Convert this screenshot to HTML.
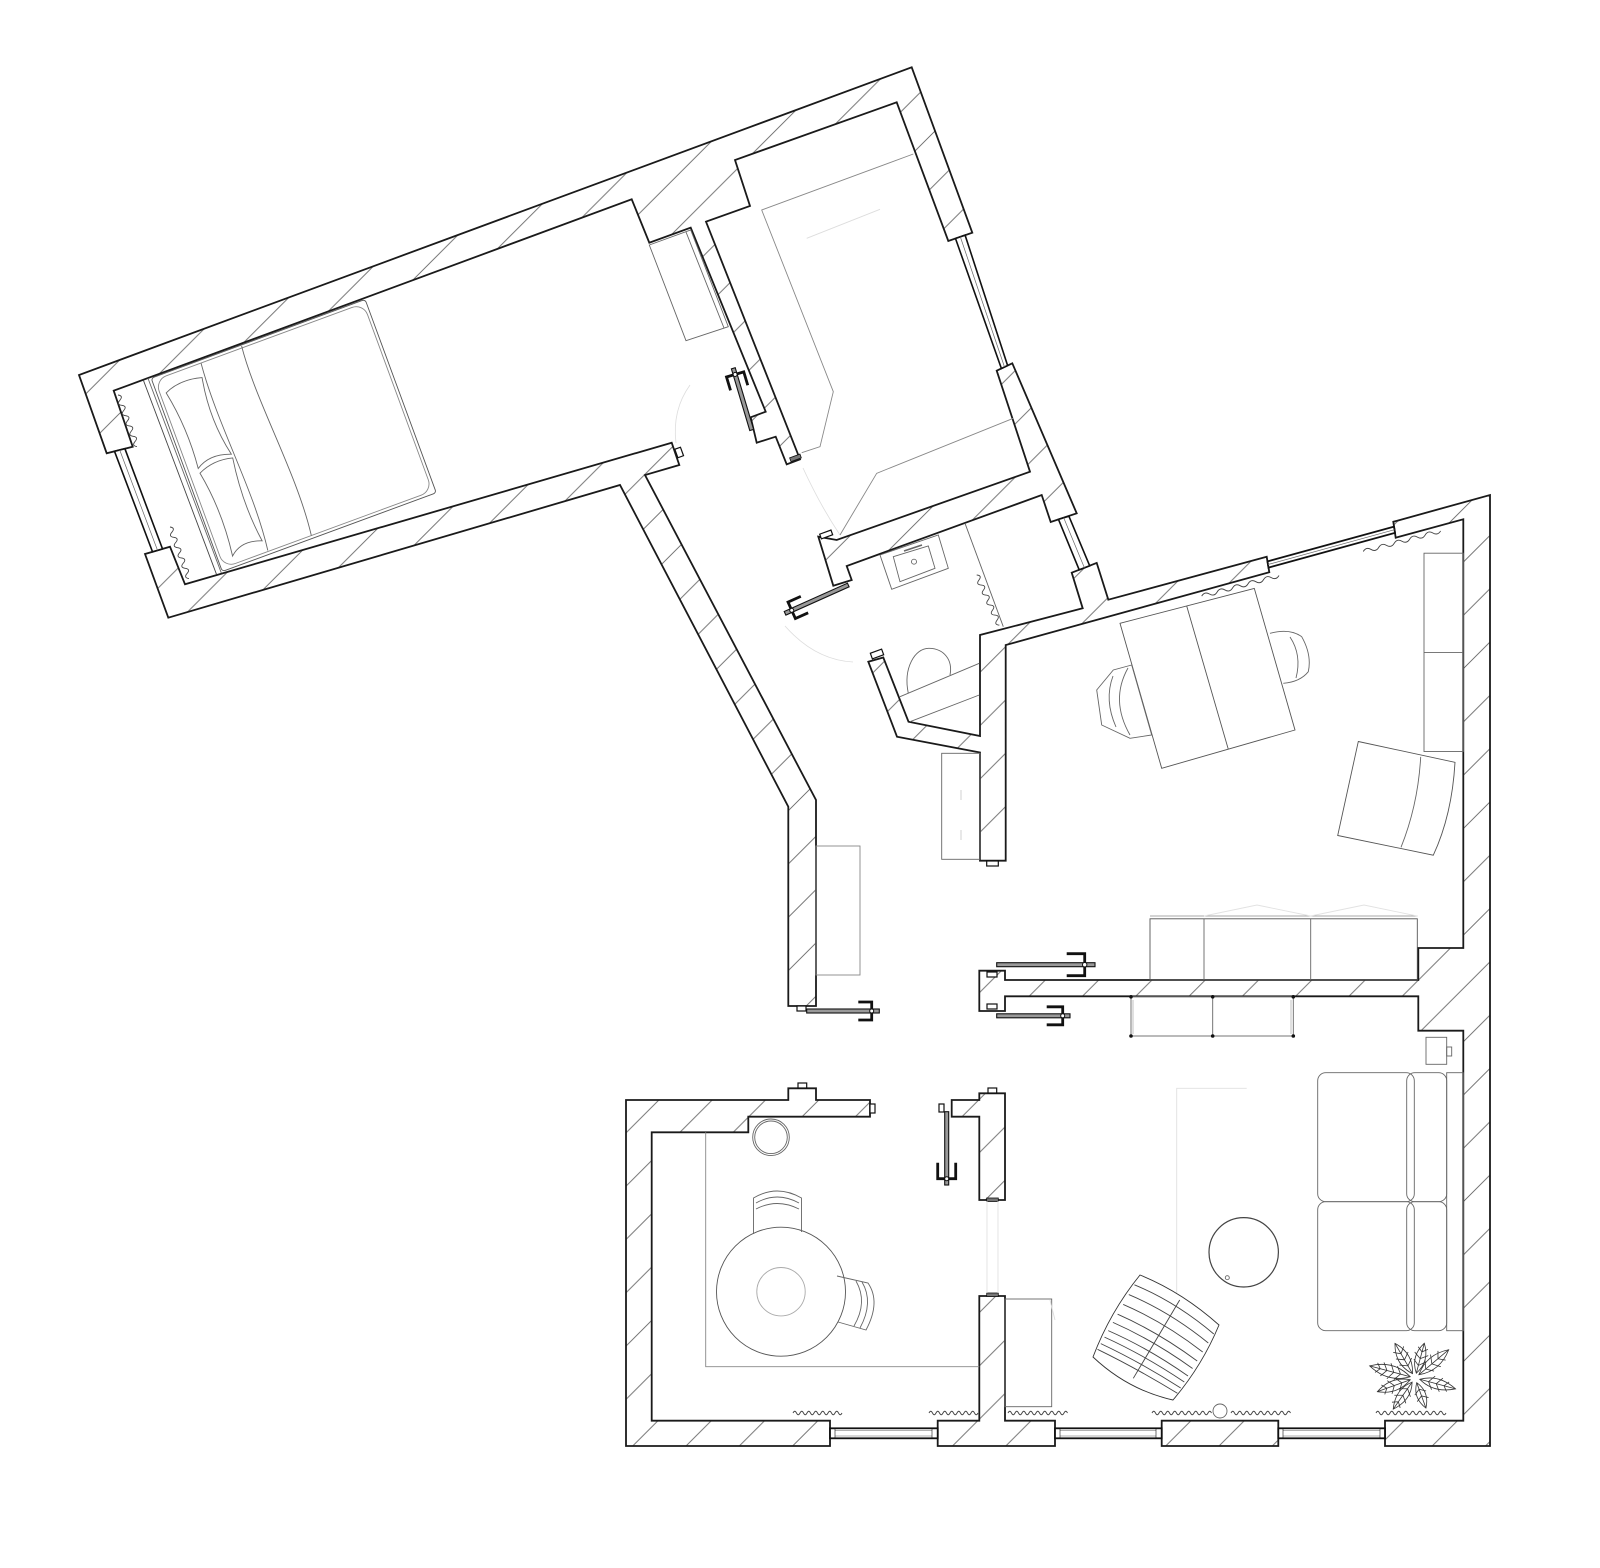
<!DOCTYPE html>
<html><head><meta charset="utf-8"><title>Floor plan</title>
<style>html,body{margin:0;padding:0;background:#fff}svg{display:block}</style></head>
<body>
<svg width="1600" height="1568" viewBox="0 0 1600 1568" xmlns="http://www.w3.org/2000/svg">
<defs>
<pattern id="h" patternUnits="userSpaceOnUse" width="53.3" height="53.3">
<path d="M0 53.3 L53.3 0 M-5 5 L5 -5 M48.3 58.3 L58.3 48.3" stroke="#666" stroke-width="0.9" fill="none"/>
</pattern>
<path id="w49" d="M0,0 q1.75,-3.5 3.5,0 t3.5,0 t3.5,0 t3.5,0 t3.5,0 t3.5,0 t3.5,0 t3.5,0 t3.5,0 t3.5,0 t3.5,0 t3.5,0 t3.5,0 t3.5,0" fill="none" stroke="#444" stroke-width="0.9"/>
<path id="w60" d="M0,0 q1.75,-3.5 3.5,0 t3.5,0 t3.5,0 t3.5,0 t3.5,0 t3.5,0 t3.5,0 t3.5,0 t3.5,0 t3.5,0 t3.5,0 t3.5,0 t3.5,0 t3.5,0 t3.5,0 t3.5,0 t3.5,0" fill="none" stroke="#444" stroke-width="0.9"/>
<path id="w70" d="M0,0 q1.75,-3.5 3.5,0 t3.5,0 t3.5,0 t3.5,0 t3.5,0 t3.5,0 t3.5,0 t3.5,0 t3.5,0 t3.5,0 t3.5,0 t3.5,0 t3.5,0 t3.5,0 t3.5,0 t3.5,0 t3.5,0 t3.5,0 t3.5,0 t3.5,0" fill="none" stroke="#444" stroke-width="0.9"/>
<path id="wO" d="M0,0 q4,-4 8,0 t8,0 t8,0 t8,0 t8,0 t8,0 t8,0 t8,0 t8,0 t8,0" fill="none" stroke="#444" stroke-width="0.9"/>
<path id="wB" d="M0,0 q2.75,-5 5.5,0 t5.5,0 t5.5,0 t5.5,0 t5.5,0 t5.5,0 t5.5,0 t5.5,0 t5.5,0 t5.5,0" fill="none" stroke="#444" stroke-width="0.9"/>
</defs>

<!-- ============ WALLS ============ -->
<g fill="url(#h)" stroke="#1a1a1a" stroke-width="1.8" stroke-linejoin="miter">
<polygon points="106.7,453.3 79,375 911.7,67.3 972.3,232.7 948.3,241 896.7,102.3 735,160 750,206 706,221.7 800,459.3 786.7,464.3 775.7,436.7 756.7,442.7 750.7,417.3 765.7,411.7 690.7,227.7 649.3,242.7 631.7,199.3 113.7,390.7 132.7,446.7"/>
<polygon points="996.7,370.7 1012.3,363.3 1076.7,513.3 1050.7,522 1041.7,495 846.7,566 851.7,580 833.3,585.7 818.3,536.7 836.7,540 1030,471.7"/>
<polygon points="1071.7,572.7 1096.7,562.9 1108.3,599.7 1266.7,556.8 1269.3,572.2 1005.7,645 1005.7,860.7 980,860.7 980,752.5 897,736.7 868.3,661.7 883.3,657.5 908.5,721.7 980,736 980,635 1082.7,608.3"/>
<polygon points="1393.3,521.8 1490,495 1490,1446 1385,1446 1385,1420.7 1463.3,1420.7 1463.3,1030.7 1418.3,1030.7 1418.3,996.3 1005,996.3 1005,1011 979.3,1011 979.3,970.7 1005,970.7 1005,980 1418.3,980 1418.3,948 1463.3,948 1463.3,519.3 1395.7,537.7"/>
<polygon points="1161.7,1420.7 1278.3,1420.7 1278.3,1446 1161.7,1446"/>
<polygon points="937.7,1420.7 979.3,1420.7 979.3,1296 1005,1296 1005,1420.7 1055,1420.7 1055,1446 937.7,1446"/>
<polygon points="830,1420.7 651.7,1420.7 651.7,1132.3 748.3,1132.3 748.3,1116.7 870,1116.7 870,1100 816,1100 816,1088.3 788.3,1088.3 788.3,1100 626,1100 626,1446 830,1446"/>
<polygon points="951.7,1100 979.3,1100 979.3,1093.3 1005,1093.3 1005,1200 979.3,1200 979.3,1116.7 951.7,1116.7"/>
<polygon points="145,554 168.3,617.7 620,485 788.3,806.7 788.3,1006 816,1006 816,800 645,475 679.3,465 671.7,442.7 185,584.3 170,546.7"/>
</g>

<!-- ============ WINDOWS ============ -->
<g stroke="#111" fill="#fff">
<polygon points="124.9,448.7 162.5,548.9 152.5,551.8 114.5,451.3" stroke-width="1.6"/>
<line x1="119.7" y1="450" x2="157.5" y2="550.3" stroke-width="0.7" stroke="#666"/>
<polygon points="955.5,238.5 1001.4,368.5 1007.6,365.5 965.1,235.2" stroke-width="1.6"/>
<line x1="960.3" y1="236.8" x2="1004.5" y2="367" stroke-width="0.7" stroke="#666"/>
<polygon points="1058.5,519.4 1079.2,569.8 1089.7,565.8 1068.9,516.2" stroke-width="1.6"/>
<line x1="1063.7" y1="517.8" x2="1084.4" y2="567.8" stroke-width="0.7" stroke="#666"/>
<polygon points="1268.5,567.6 1395,532.9 1394,526.6 1267.5,561.4" stroke-width="1.8"/>
<line x1="1268" y1="564.5" x2="1394.5" y2="529.7" stroke-width="0.7" stroke="#666"/>
<rect x="830" y="1428.3" width="107.7" height="10" stroke-width="1.8"/>
<line x1="835" y1="1430.5" x2="932" y2="1430.5" stroke-width="0.6" stroke="#666"/>
<line x1="835" y1="1436" x2="932" y2="1436" stroke-width="0.6" stroke="#666"/>
<line x1="835" y1="1428.3" x2="835" y2="1438.3" stroke-width="0.6"/>
<line x1="932" y1="1428.3" x2="932" y2="1438.3" stroke-width="0.6"/>
<rect x="1055" y="1428.3" width="106.7" height="10" stroke-width="1.8"/>
<line x1="1060" y1="1430.5" x2="1156" y2="1430.5" stroke-width="0.6" stroke="#666"/>
<line x1="1060" y1="1436" x2="1156" y2="1436" stroke-width="0.6" stroke="#666"/>
<line x1="1060" y1="1428.3" x2="1060" y2="1438.3" stroke-width="0.6"/>
<line x1="1156" y1="1428.3" x2="1156" y2="1438.3" stroke-width="0.6"/>
<rect x="1278.3" y="1428.3" width="106.7" height="10" stroke-width="1.8"/>
<line x1="1283" y1="1430.5" x2="1380" y2="1430.5" stroke-width="0.6" stroke="#666"/>
<line x1="1283" y1="1436" x2="1380" y2="1436" stroke-width="0.6" stroke="#666"/>
<line x1="1283" y1="1428.3" x2="1283" y2="1438.3" stroke-width="0.6"/>
<line x1="1380" y1="1428.3" x2="1380" y2="1438.3" stroke-width="0.6"/>
</g>

<!-- ============ DOORS ============ -->
<g stroke="#111" fill="#999">
<g transform="translate(806.7,1011)"><rect x="0" y="-2" width="72.6" height="4" stroke-width="1.1"/><path d="M51.6,-9 H65 V9 H51.6" fill="none" stroke-width="2.8"/><circle cx="65" cy="0" r="2" fill="#fff" stroke-width="1"/></g>
<g transform="translate(996.7,964.7)"><rect x="0" y="-2" width="98.3" height="4" stroke-width="1.1"/><path d="M70,-11 H88 V11 H70" fill="none" stroke-width="2.8"/><circle cx="88" cy="0" r="2.2" fill="#fff" stroke-width="1"/></g>
<g transform="translate(996.7,1015.8)"><rect x="0" y="-2" width="73.3" height="4" stroke-width="1.1"/><path d="M50,-9 H66 V9 H50" fill="none" stroke-width="2.8"/><circle cx="66" cy="0" r="2" fill="#fff" stroke-width="1"/></g>
<g transform="translate(946.7,1111.7) rotate(90)"><rect x="0" y="-2" width="73.3" height="4" stroke-width="1.1"/><path d="M51,-9 H67 V9 H51" fill="none" stroke-width="2.8"/><circle cx="67" cy="0" r="2" fill="#fff" stroke-width="1"/></g>
<g transform="translate(848.3,585) rotate(155.9)"><rect x="0" y="-2" width="69.3" height="4" stroke-width="1.1"/><path d="M48,-9 H62 V9 H48" fill="none" stroke-width="2.8"/><circle cx="62" cy="0" r="2" fill="#fff" stroke-width="1"/></g>
<g transform="translate(751.7,430) rotate(-106.6)"><rect x="0" y="-2" width="64.4" height="4" stroke-width="1.1"/><path d="M44,-9 H58 V9 H44" fill="none" stroke-width="2.8"/><circle cx="58" cy="0" r="2" fill="#fff" stroke-width="1"/></g>
</g>
<g fill="#fff" stroke="#111" stroke-width="1.2">
<rect x="676" y="448" width="6" height="9" transform="rotate(-20 679 452)"/>
<rect x="820" y="532" width="12" height="5" transform="rotate(-20 826 534)"/>
<rect x="871" y="651" width="12" height="6" transform="rotate(-20 877 654)"/>
<rect x="986.7" y="861" width="11.6" height="5"/>
<rect x="798" y="1083" width="8.7" height="5"/>
<rect x="870" y="1104" width="5" height="9"/>
<rect x="988" y="1088" width="8.7" height="5"/>
<rect x="939" y="1104" width="5" height="8"/>
<rect x="987" y="1004" width="10" height="5"/>
<rect x="987" y="972" width="10" height="5"/>
<rect x="797" y="1006" width="9" height="5"/>
</g>
<g fill="#777" stroke="#111" stroke-width="0.8">
<rect x="986.7" y="1198" width="11.6" height="3.5"/>
<rect x="986.7" y="1293" width="11.6" height="3.5"/>
<rect x="790" y="456" width="11" height="4" transform="rotate(-20 795 458)"/>
</g>
<g stroke="#ddd" stroke-width="0.8" fill="none">
<line x1="987" y1="1201" x2="987" y2="1293"/>
<line x1="998" y1="1201" x2="998" y2="1293"/>
<path d="M785,626 Q815,660 853,662"/>
<path d="M676,443 Q672,410 690,385"/>
<path d="M803,468 Q820,505 840,535"/>
</g>

<!-- ============ FURNITURE ============ -->
<g fill="none" stroke="#666" stroke-width="0.9">
<g transform="translate(143.3,380) rotate(-20.2)">
<line x1="0" y1="0" x2="1.6" y2="208" stroke="#444"/>
<line x1="5" y1="0" x2="6.6" y2="208"/>
<rect x="8" y="1" width="228" height="206" rx="3" stroke="#555"/>
<rect x="11" y="4" width="222" height="200" rx="12" stroke="#888"/>
<path d="M104,2 C98,60 112,140 104,204"/>
<path d="M60,4 C54,70 66,140 58,203"/>
<path d="M17,20 Q34,12 56,18 Q48,60 57,100 Q36,92 21,102 Q25,60 17,20 Z"/>
<path d="M21,107 Q38,99 57,104 Q50,150 56,192 Q36,184 23,196 Q29,150 21,107 Z"/>
</g>
<polygon points="649.3,245 690.7,230 728.3,326.7 686,340.7"/>
<line x1="686" y1="232" x2="724" y2="328"/>
<polyline points="913.3,154 761.7,210 833.3,391.7 820,446.7 801.7,452.7" stroke="#888"/>
<polyline points="840,535 876.7,473.3 1013.3,418.3" stroke="#888"/>
<line x1="806.7" y1="238.3" x2="880" y2="209.3" stroke="#ddd"/>
<polygon points="880,555 938.3,535 948.3,568.3 891.7,589.3"/>
<polygon points="893.3,556.7 928.3,546 935,568.3 900,581.7"/>
<circle cx="914" cy="561.7" r="2.5"/>
<line x1="904" y1="551" x2="922" y2="545" stroke-width="1.5"/>
<line x1="965" y1="523.3" x2="1003.3" y2="626.7"/>
<path d="M908.3,693.3 C903,668 915,648 929,648.3 C944,648.5 953,660 950,675"/>
<line x1="900" y1="696.7" x2="979.3" y2="663.3"/>
<line x1="910" y1="721.7" x2="979.3" y2="695"/>
<rect x="941.7" y="753.3" width="38.3" height="106"/>
<line x1="961" y1="790" x2="961" y2="800" stroke="#ccc"/>
<line x1="961" y1="830" x2="961" y2="840" stroke="#ccc"/>
<rect x="816" y="846" width="44" height="129" stroke="#888"/>
<polygon points="1120,623.3 1254.3,588.4 1295,730 1161.7,768.3" stroke="#555"/>
<line x1="1186.7" y1="606" x2="1228.3" y2="749.3" stroke="#555"/>
<polygon points="1096.7,690 1113.3,670 1131.7,665 1151.7,735 1130,738.3 1101.7,725"/>
<path d="M1113,676 Q1104,700 1116,727"/>
<path d="M1128,668 Q1110,700 1130,735"/>
<path d="M1270,633.3 Q1290,628 1301.7,636.7 Q1312,655 1308.3,671.7 Q1300,682 1283.3,683.3"/>
<path d="M1290,637 Q1302,655 1296,678"/>
<path d="M1358.3,741.5 L1455,762.3 Q1452,815 1433.3,855.2 L1337.7,835.5 Z" stroke="#555"/>
<path d="M1420.7,756.9 Q1418,805 1401,847.3"/>
<rect x="1424" y="553.2" width="39.3" height="198.3"/>
<line x1="1424" y1="652.6" x2="1463.3" y2="652.6"/>
<rect x="1150" y="918.8" width="267.3" height="61.2" stroke="#555"/>
<line x1="1204" y1="918.8" x2="1204" y2="980"/>
<line x1="1310.7" y1="918.8" x2="1310.7" y2="980"/>
<line x1="1150" y1="916" x2="1417.3" y2="916" stroke="#aaa"/>
<path d="M1204,916 L1257,905 L1310.7,916 M1310.7,916 L1364,905 L1417,916" stroke="#e2e2e2"/>
<rect x="1131" y="996.3" width="162.3" height="39.7"/>
<line x1="1212.7" y1="996.3" x2="1212.7" y2="1036"/>
<line x1="1133" y1="1000" x2="1133" y2="1034" stroke="#bbb"/>
<line x1="1291" y1="1000" x2="1291" y2="1034" stroke="#bbb"/>
<rect x="1426" y="1037.3" width="20.7" height="27"/>
<rect x="1446.7" y="1047" width="5" height="9"/>
<rect x="1446.7" y="1072.7" width="16.6" height="258"/>
<rect x="1317.7" y="1072.7" width="96.6" height="129" rx="8"/>
<rect x="1406.7" y="1072.7" width="40" height="129" rx="8"/>
<rect x="1317.7" y="1201.7" width="96.6" height="129" rx="8"/>
<rect x="1406.7" y="1201.7" width="40" height="129" rx="8"/>
<polyline points="1246.7,1088.3 1176.7,1088.3 1176.7,1293.3" stroke="#e0e0e0"/>
<circle cx="1243.7" cy="1252.3" r="34.7" stroke="#444" stroke-width="1.2"/>
<circle cx="1227.3" cy="1277.7" r="2"/>
<circle cx="1220" cy="1411" r="7"/>
<rect x="1005" y="1299" width="46.7" height="107.7"/>
<line x1="1050" y1="1300" x2="1055" y2="1320" stroke="#ddd"/>
<polyline points="705.7,1132.3 705.7,1366.7 979.3,1366.7" stroke="#888"/>
<circle cx="781" cy="1291.7" r="64.5" stroke="#555"/>
<circle cx="781" cy="1291.7" r="24.2" stroke="#aaa"/>
<circle cx="771" cy="1137.3" r="18.3"/>
<circle cx="771" cy="1137.3" r="16.3"/>
<path d="M753.5,1234 L753.5,1198 Q777,1184 801.5,1198 L801.5,1232"/>
<path d="M756,1203 Q777,1191 799,1203"/>
<path d="M756,1209 Q777,1198 799,1209"/>
<path d="M837,1276 L868,1283 Q881,1302 866,1330 L838,1322"/>
<path d="M862,1282 Q874,1302 860,1328"/>
<path d="M856,1281 Q868,1302 854,1326"/>
<path d="M1140,1275 Q1182,1292 1219,1325 Q1202,1366 1173,1400 Q1128,1390 1093,1357 Q1110,1312 1140,1275 Z" stroke="#333"/>
<g stroke="#444">
<path d="M1134.4,1284.8 Q1176,1302 1213.8,1334"/>
<path d="M1128.8,1294.6 Q1170,1312 1208.3,1343"/>
<path d="M1123.2,1304.4 Q1164,1322 1202.7,1352"/>
<path d="M1117.6,1314.2 Q1158,1332 1197.2,1361"/>
<path d="M1112.9,1322.4 Q1153,1340 1192.6,1368.5"/>
<path d="M1108.2,1330.6 Q1148,1348 1188,1376"/>
<path d="M1104.5,1337.1 Q1144,1355 1184.3,1382"/>
<path d="M1100.8,1343.6 Q1140,1362 1180.7,1388"/>
<path d="M1097.5,1349.3 Q1136,1368 1177.4,1393.3"/>
<line x1="1179.7" y1="1300" x2="1133.3" y2="1378.3"/>
</g>
<g stroke="#333" stroke-width="0.8" transform="translate(1415,1378)">
<g transform="rotate(195)"><path d="M5,0 Q25,-12 47,0 Q25,12 5,0Z"/><path d="M5,0 L47,0 M15,0 l5,-7 M22,0 l5,-8 M29,0 l5,-7 M36,0 l4,-5 M15,0 l5,7 M22,0 l5,8 M29,0 l5,7 M36,0 l4,5"/></g>
<g transform="rotate(240)"><path d="M5,0 Q22,-11 40,0 Q22,11 5,0Z"/><path d="M5,0 L40,0 M14,0 l5,-7 M21,0 l5,-7 M28,0 l5,-6 M14,0 l5,7 M21,0 l5,7 M28,0 l5,6"/></g>
<g transform="rotate(285)"><path d="M5,0 Q20,-10 36,0 Q20,10 5,0Z"/><path d="M5,0 L36,0 M13,0 l5,-6 M20,0 l5,-7 M27,0 l4,-5 M13,0 l5,6 M20,0 l5,7 M27,0 l4,5"/></g>
<g transform="rotate(320)"><path d="M5,0 Q24,-11 44,0 Q24,11 5,0Z"/><path d="M5,0 L44,0 M14,0 l5,-7 M22,0 l5,-8 M30,0 l5,-6 M14,0 l5,7 M22,0 l5,8 M30,0 l5,6"/></g>
<g transform="rotate(15)"><path d="M5,0 Q22,-10 42,0 Q22,10 5,0Z"/><path d="M5,0 L42,0 M14,0 l5,-7 M22,0 l5,-7 M30,0 l4,-5 M14,0 l5,7 M22,0 l5,7 M30,0 l4,5"/></g>
<g transform="rotate(70)"><path d="M5,0 Q18,-9 32,0 Q18,9 5,0Z"/><path d="M5,0 L32,0 M12,0 l4,-6 M19,0 l4,-6 M12,0 l4,6 M19,0 l4,6"/></g>
<g transform="rotate(125)"><path d="M5,0 Q20,-10 38,0 Q20,10 5,0Z"/><path d="M5,0 L38,0 M13,0 l5,-7 M21,0 l5,-7 M29,0 l4,-5 M13,0 l5,7 M21,0 l5,7 M29,0 l4,5"/></g>
<g transform="rotate(160)"><path d="M5,0 Q22,-10 40,0 Q22,10 5,0Z"/><path d="M5,0 L40,0 M14,0 l5,-7 M22,0 l5,-7 M30,0 l4,-5 M14,0 l5,7 M22,0 l5,7 M30,0 l4,5"/></g>
</g>
</g>
<g fill="#111">
<circle cx="1131" cy="996.8" r="1.8"/><circle cx="1212.7" cy="996.8" r="1.8"/><circle cx="1293.3" cy="996.8" r="1.8"/>
<circle cx="1131" cy="1036" r="1.8"/><circle cx="1212.7" cy="1036" r="1.8"/><circle cx="1293.3" cy="1036" r="1.8"/>
</g>

<!-- ============ CURTAINS ============ -->
<use href="#w49" x="793" y="1413"/>
<use href="#w49" x="929" y="1413"/>
<use href="#w60" x="1008" y="1413"/>
<use href="#w60" x="1152" y="1413"/>
<use href="#w60" x="1231" y="1413"/>
<use href="#w70" x="1376" y="1413"/>
<use href="#wO" transform="translate(1201.7,596.1) rotate(-14.9)"/>
<use href="#wO" transform="translate(1363.3,551.5) rotate(-14.9)"/>
<use href="#wB" transform="translate(118,395) rotate(69.8)"/>
<use href="#wB" transform="translate(170,527) rotate(69.8)"/>
<use href="#wB" transform="translate(976.7,575) rotate(65.7)"/>
</svg>
</body></html>
